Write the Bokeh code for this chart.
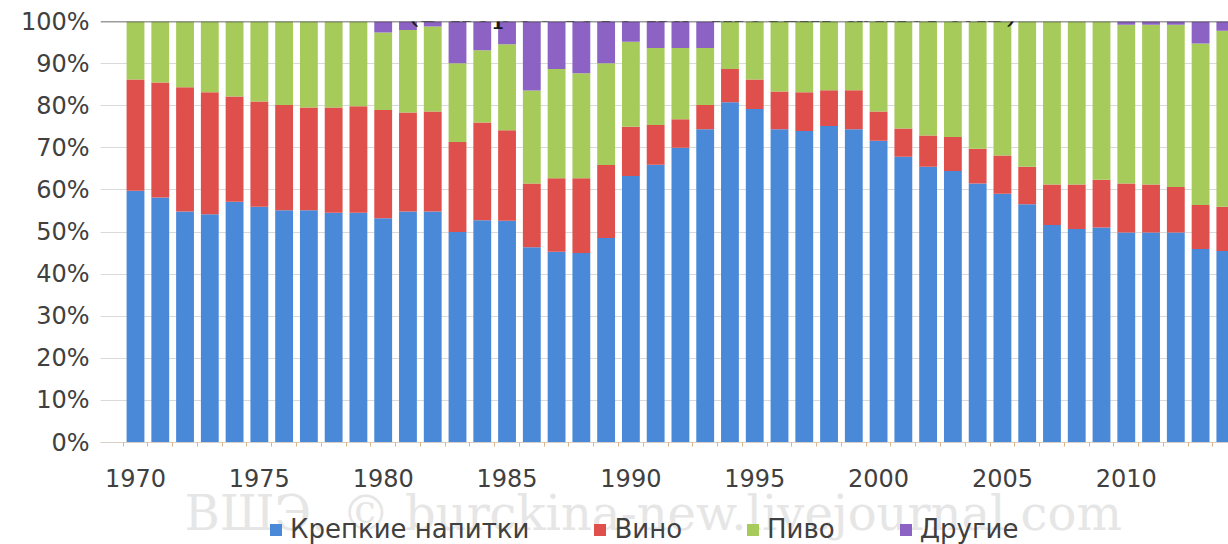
from bokeh.plotting import figure
from bokeh.models import (ColumnDataSource, FixedTicker, PrintfTickFormatter, Span,
                          Label, Legend, LegendItem, Range1d)
from bokeh.embed import file_html
from bokeh.resources import INLINE

years = list(range(1970, 2015))

strong = [59.8, 58.2, 54.9, 54.2, 57.2, 56.0, 55.2, 55.2, 54.6, 54.6,
          53.3, 54.9, 54.9, 50.0, 52.8, 52.7, 46.4, 45.3, 45.0, 48.6,
          63.3, 66.0, 70.0, 74.4, 80.8, 79.2, 74.4, 74.0, 75.2, 74.4,
          71.7, 67.9, 65.5, 64.5, 61.5, 59.1, 56.6, 51.7, 50.7, 51.1,
          49.9, 49.9, 49.9, 46.0, 45.5]
wine = [26.4, 27.3, 29.5, 29.0, 25.0, 25.0, 25.0, 24.4, 25.0, 25.3,
        25.7, 23.5, 23.7, 21.4, 23.2, 21.5, 15.1, 17.5, 17.8, 17.3,
        11.7, 9.4, 6.8, 5.8, 7.9, 7.0, 9.0, 9.2, 8.5, 9.3,
        6.9, 6.7, 7.4, 8.1, 8.3, 9.1, 8.9, 9.6, 10.6, 11.3,
        11.6, 11.4, 10.8, 10.4, 10.5]
beer = [13.8, 14.5, 15.6, 16.8, 17.8, 19.0, 19.8, 20.4, 20.4, 20.1,
        18.4, 19.6, 20.2, 18.7, 17.2, 20.4, 22.1, 25.9, 24.9, 24.2,
        20.2, 18.3, 16.9, 13.5, 11.3, 13.8, 16.6, 16.8, 16.3, 16.3,
        21.4, 25.4, 27.1, 27.4, 30.2, 31.8, 34.5, 38.7, 38.7, 37.6,
        37.7, 37.9, 38.5, 38.4, 41.8]
other = [0, 0, 0, 0, 0, 0, 0, 0, 0, 0,
         2.6, 2.0, 1.2, 9.9, 6.8, 5.4, 16.4, 11.3, 12.3, 9.9,
         4.8, 6.3, 6.3, 6.3, 0, 0, 0, 0, 0, 0,
         0, 0, 0, 0, 0, 0, 0, 0, 0, 0,
         0.8, 0.8, 0.8, 5.2, 2.2]

series = ["strong", "wine", "beer", "other"]
series_names = ["Крепкие напитки", "Вино", "Пиво", "Другие"]
colors = ["#4a89d8", "#df4f4b", "#a6cb5b", "#8c62c4"]
x_tick_years = [1970, 1975, 1980, 1985, 1990, 1995, 2000, 2005, 2010]
y_ticks = [0, 10, 20, 30, 40, 50, 60, 70, 80, 90, 100]
title_text = "(в пересчете на чистый алкоголь)"
watermark_text = "ВШЭ. © burckina-new.livejournal.com"

source = ColumnDataSource(dict(year=years, strong=strong, wine=wine, beer=beer, other=other))

# frame spans down to the bottom of the picture; the x axis sits at y = 0
p = figure(width=1228, height=544, output_backend="svg", toolbar_location=None,
           x_range=Range1d(1968.587, 2014.127), y_range=Range1d(-24.2, 100),
           min_border_left=100, min_border_right=0, min_border_top=21, min_border_bottom=0)
p.outline_line_color = None
p.background_fill_color = "white"

renderers = p.vbar_stack(series, x="year", width=0.72, source=source, color=colors,
                         line_color=None)

# x axis fixed at zero
p.xaxis.fixed_location = 0
p.xaxis.ticker = FixedTicker(ticks=x_tick_years,
                             minor_ticks=[y - 0.5 for y in years] + [years[-1] + 0.5])
p.xaxis.major_tick_line_color = None
p.xaxis.major_tick_out = 0
p.xaxis.major_tick_in = 0
p.xaxis.minor_tick_line_color = "#d9b38c"
p.xaxis.minor_tick_out = 4
p.xaxis.minor_tick_in = 0
p.xaxis.axis_line_color = "#d8cfc6"
p.xaxis.major_label_standoff = 22
p.xaxis.major_label_text_font = "DejaVu Sans"
p.xaxis.major_label_text_font_size = "24px"
p.xaxis.major_label_text_color = "#404040"

p.yaxis.ticker = FixedTicker(ticks=y_ticks)
p.yaxis.formatter = PrintfTickFormatter(format="%d%%")
p.yaxis.axis_line_color = None
p.yaxis.major_tick_line_color = None
p.yaxis.minor_tick_line_color = None
p.yaxis.major_tick_out = 0
p.yaxis.major_tick_in = 0
p.yaxis.major_label_standoff = 11
p.yaxis.major_label_text_font = "DejaVu Sans"
p.yaxis.major_label_text_font_size = "24px"
p.yaxis.major_label_text_color = "#404040"

p.xgrid.grid_line_color = None
p.ygrid.ticker = FixedTicker(ticks=y_ticks)
p.ygrid.grid_line_color = "#d9d9d9"
p.ygrid.grid_line_width = 1

p.add_layout(Span(location=100, dimension="width", line_color="#3a3a3a", line_width=1.5))

# partially visible title at the very top
p.add_layout(Label(x=1993.3, y=102.8, text=title_text, text_font="DejaVu Serif",
                   text_font_size="34px", text_align="center", text_baseline="alphabetic",
                   text_color="#1a1a1a"))

# watermark
p.add_layout(Label(x=1990.9, y=-16.8, text=watermark_text, text_font="DejaVu Serif",
                   text_font_size="48px", text_align="center", text_baseline="alphabetic",
                   text_color="#e6e6e6", level="underlay"))

legend = Legend(items=[LegendItem(label=n, renderers=[r]) for n, r in zip(series_names, renderers)],
                location=(168, 0), orientation="horizontal", padding=0, margin=0,
                spacing=63, border_line_color=None, background_fill_alpha=0,
                glyph_width=15, glyph_height=15, label_standoff=7, label_height=20,
                label_text_font="DejaVu Sans", label_text_font_size="26px",
                label_text_color="#404040")
p.add_layout(legend, "center")

open("out.html", "w").write(file_html(p, INLINE))
